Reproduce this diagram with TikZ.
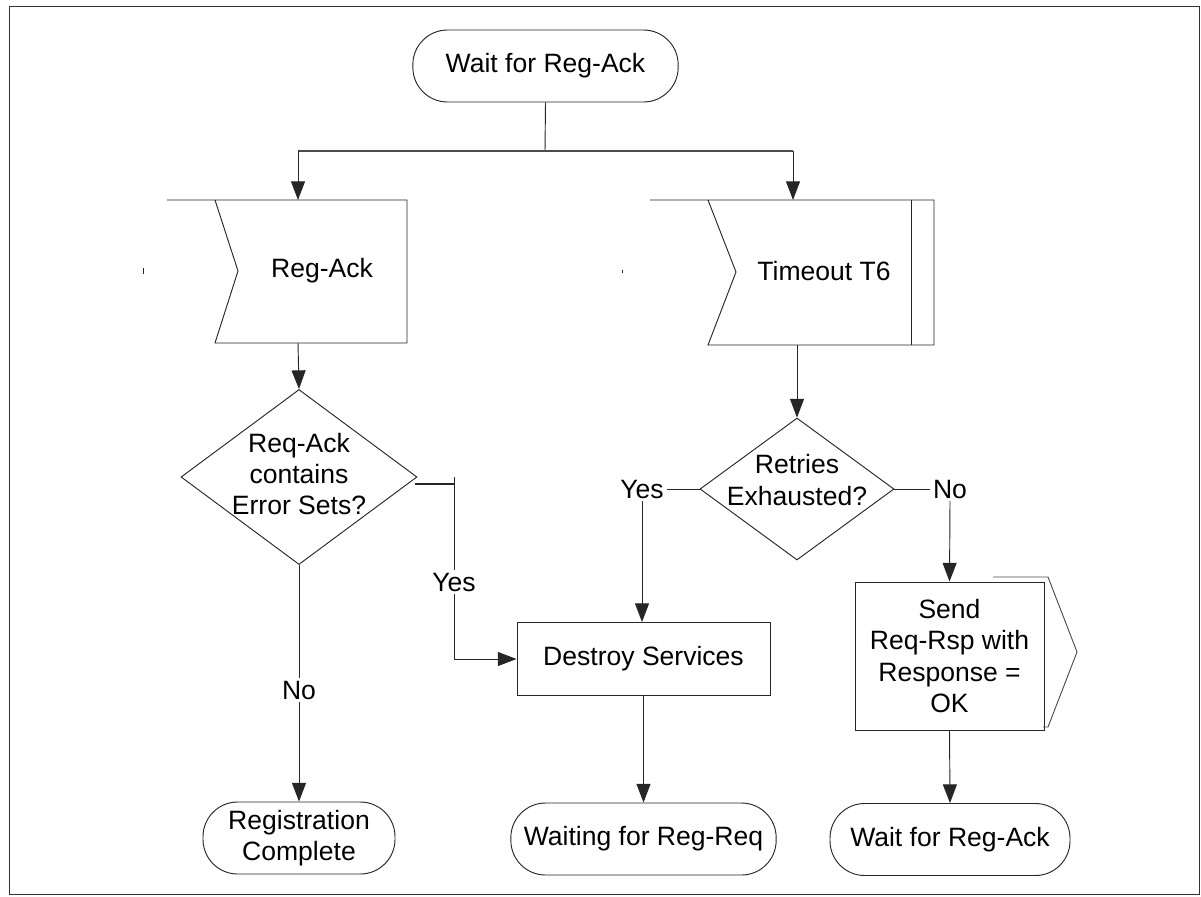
\documentclass[tikz,border=0pt]{standalone}
\usepackage{fontspec}
\setmainfont{Liberation Sans}
\usetikzlibrary{arrows.meta,shapes.geometric}
\begin{document}
\begin{tikzpicture}[x=0.75pt,y=-0.75pt,
  line/.style={draw=black!85, line width=0.7pt},
  arr/.style={line, -{Triangle[length=14pt,width=10.5pt]}},
  txt/.style={font=\fontsize{19.9}{23.3}\selectfont, align=center, inner sep=1pt},
  term/.style={txt, draw=black!85, line width=0.7pt, rounded corners=26pt, minimum height=54pt, inner sep=0pt},
  procbox/.style={txt, draw=black!85, line width=0.7pt, inner sep=0pt},
  dia/.style={diamond, draw=black!85, line width=0.7pt, inner sep=0pt},
  lbl/.style={txt, inner sep=2pt}
]
\useasboundingbox (0,0) rectangle (1201,896);
\draw[line width=1.4pt, draw=black!80] (9.5,6.5) rectangle (1199.5,894.5);

% top terminal
\node[term, minimum width=199pt] (start) at (545.5,66) {Wait for Reg-Ack};
\coordinate (br) at (545,151);
\coordinate (bl) at (298,151);
\coordinate (brr) at (793,151);
\draw[line] (start.south) -- (br);
\draw[line, line width=1.1pt, draw=black!70] (bl) -- (brr);

% input signal Reg-Ack
\coordinate (in1top) at (298,200);
\coordinate (in1bot) at (298,343);
\draw[line] (167,200) -- (407,200) -- (407,343) -- (215,343) -- (238,271) -- (215,200);
\node[txt] (ra) at (322,271) {Reg-Ack};
\draw[line, line width=0.5pt] (143,268) -- (143,274);
\draw[arr] (bl) -- (in1top);

% input signal Timeout T6
\coordinate (in2top) at (793,200);
\coordinate (in2bot) at (797,345);
\draw[line] (650,200) -- (934,200) -- (934,345) -- (708,345) -- (736,272) -- (708,200);
\draw[line] (911,200) -- (911,345);
\node[txt] (to) at (824,271) {Timeout T6};
\draw[line, line width=0.5pt] (622,270) -- (622,273);
\draw[arr] (brr) -- (in2top);

% decision 1
\node[dia, minimum width=177pt, minimum height=131.25pt] (d1) at (299,477) {};
\node[txt] (d1t) at (299,474) {Req-Ack\\contains\\Error Sets?};
\draw[arr] (in1bot) -- (d1.north);

% decision 2
\node[dia, minimum width=145.5pt, minimum height=106.5pt] (d2) at (797,489) {};
\node[txt] (d2t) at (797,480) {Retries\\Exhausted?};
\draw[arr] (in2bot) -- (d2.north);

% Destroy Services
\node[procbox, minimum width=189.75pt, minimum height=54.75pt] (ds) at (643.5,659) {Destroy Services};

% Yes branch from d1
\coordinate (j1a) at (415,484);
\coordinate (j1b) at (454,484);
\coordinate (j1c) at (454,477);
\node[lbl] (yes1) at (454,582) {Yes};
\draw[line, line width=1.4pt] (j1a) -- (j1b);
\draw[line] (j1c) -- (yes1.north);
\draw[arr] (yes1.south) |- (ds.west);

% No branch from d1
\node[term, minimum width=144pt] (rc) at (299,838) {Registration\\Complete};
\node[lbl] (no1) at (299,690) {No};
\draw[line] (d1.south) -- (no1.north);
\draw[arr] (no1.south) -- (rc.north);

% Yes / No from d2
\node[lbl] (yes2) at (642,489) {Yes};
\node[lbl] (no2) at (950,489) {No};
\draw[line] (d2.west) -- (yes2.east);
\draw[line] (d2.east) -- (no2.west);
\draw[arr] (yes2.south) -- (yes2.south |- ds.north);

% Send output
\node[procbox, minimum width=141.75pt, minimum height=111pt] (send) at (949.5,656) {Send\\Req-Rsp with\\Response =\\OK};
\draw[line, draw=black!70] (993,577) -- (1048,577) -- (1077,652) -- (1048,727) -- (1043,727);
\draw[arr] (no2.south) -- (send.north);

% bottom terminals
\node[term, minimum width=199pt] (wr) at (643.5,839) {Waiting for Reg-Req};
\draw[arr] (ds.south) -- (wr.north);
\node[term, minimum width=180pt] (wa) at (950,839.5) {Wait for Reg-Ack};
\draw[arr] (send.south) -- (wa.north);
\end{tikzpicture}
\end{document}
